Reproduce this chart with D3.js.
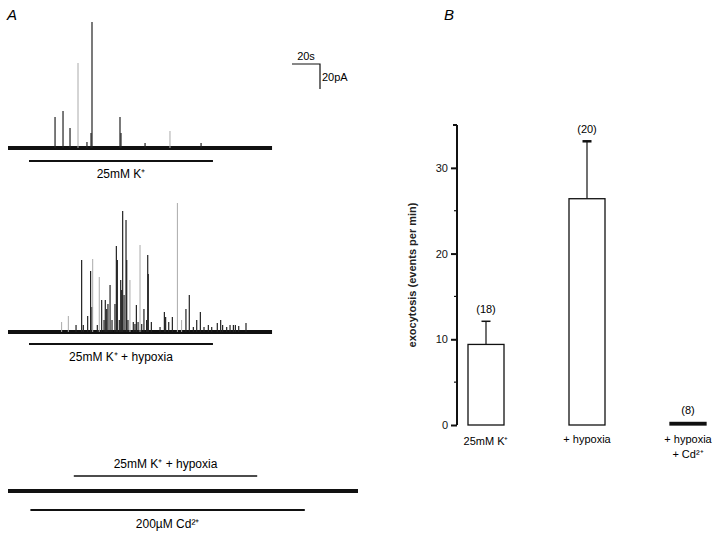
<!DOCTYPE html>
<html><head><meta charset="utf-8">
<script src="https://cdn.jsdelivr.net/npm/d3@7"></script>
<style>body{margin:0;background:#fff}svg{display:block;font-family:"Liberation Sans",Arial,sans-serif}</style>
</head><body><svg id="c" width="720" height="538"></svg>
<script>
// ---------- DATA ----------
// Panel A traces: spike times (s from trace start) and amplitudes (pA)
const trace1Times = [33.6, 39.3, 44.3, 50.0, 56.4, 59.3, 60.0, 80.0, 80.7, 97.9, 115.7, 137.9];
const trace1Amps  = [24.8, 29.6, 16.0, 68.0, 4.8, 12.0, 100.8, 24.8, 12.0, 4.0, 13.6, 4.0];
const trace1Faint = [50.0, 115.7];
const trace2Times = [38.3, 43.1, 48.6, 52.6, 53.8, 56.9, 59.0, 60.0, 60.5, 63.8, 65.2, 66.9, 68.6, 69.5, 70.5, 71.4, 72.9, 74.3, 76.4, 77.4, 78.1, 79.5, 80.5, 81.2, 81.9, 82.9, 84.3, 84.8, 85.7, 87.1, 89.5, 90.7, 91.7, 92.9, 94.3, 95.5, 97.1, 99.0, 99.8, 100.2, 102.4, 108.6, 111.7, 112.6, 114.8, 117.4, 121.0, 124.0, 127.1, 129.5, 132.4, 134.8, 137.4, 140.0, 143.1, 145.5, 149.5, 151.9, 153.3, 156.2, 158.6, 161.0, 162.4, 164.8, 170.0];
const trace2Amps  = [8.0, 12.8, 5.6, 57.6, 5.6, 12.8, 48.8, 20.0, 58.4, 5.6, 44.0, 25.6, 9.6, 25.6, 18.4, 22.4, 37.6, 9.6, 22.4, 68.8, 57.6, 9.6, 41.6, 33.6, 96.8, 29.6, 89.6, 57.6, 9.6, 41.6, 8.0, 6.4, 21.6, 8.0, 69.6, 6.4, 18.4, 9.6, 61.6, 46.4, 8.0, 4.0, 16.0, 12.0, 8.0, 12.0, 103.2, 9.6, 18.4, 29.6, 4.0, 9.6, 16.0, 4.0, 5.6, 4.0, 7.2, 9.6, 5.6, 4.0, 5.6, 5.6, 5.6, 4.8, 7.2];
const trace2Faint = [38.3, 43.1, 60.5, 87.1, 94.3, 121.0, 65.2, 124.0];
const traceDurations = [188.6, 188.6, 250];
const stimLabels = ["25mM K\u207A", "25mM K\u207A + hypoxia", "25mM K\u207A + hypoxia", "200\u00B5M Cd\u00B2\u207A"];
const stimStart = [15, 15, 47, 16];
const stimEnd   = [146.4, 146.4, 178, 212];
const scaleBarTime = 20, scaleBarAmp = 20;

// Panel B bar chart
const categories = ["25mM K+", "+ hypoxia", "+ hypoxia + Cd2+"];
const rates  = [9.4, 26.4, 0.3];
const errors = [12.1, 33.1, null];
const nCells = ["(18)", "(20)", "(8)"];
const yTicks = [0, 10, 20, 30];
const yMinorTicks = [5, 15, 25];

// ---------- DRAW ----------
const svg = d3.select("#c");
const ink = "#111";

// Panel A
svg.append("text").attr("x", 7).attr("y", 20).attr("font-size", 15).attr("font-style", "italic").text("A");

const t = d3.scaleLinear().domain([0, 250]).range([8, 358]);
const a = d3.scaleLinear().domain([0, 100]).range([0, 125]); // px per pA

function drawTrace(base, dur, times, amps, faint) {
  const g = svg.append("g");
  g.append("line").attr("x1", t(0)).attr("x2", t(dur)).attr("y1", base).attr("y2", base)
    .attr("stroke", ink).attr("stroke-width", 4);
  times.forEach((tm, i) => {
    const isF = faint.includes(tm);
    g.append("line").attr("x1", t(tm)).attr("x2", t(tm))
      .attr("y1", base).attr("y2", base - a(amps[i]))
      .attr("stroke", isF ? "#aaa" : "#222").attr("stroke-width", isF ? 1 : 1.2);
  });
}
function stim(y, i, ty) {
  svg.append("line").attr("x1", t(stimStart[i])).attr("x2", t(stimEnd[i])).attr("y1", y).attr("y2", y)
    .attr("stroke", ink).attr("stroke-width", 1.8);
  svg.append("text").attr("x", (t(stimStart[i]) + t(stimEnd[i])) / 2).attr("y", ty)
    .attr("text-anchor", "middle").attr("font-size", 12).text(stimLabels[i]);
}

drawTrace(148, traceDurations[0], trace1Times, trace1Amps, trace1Faint);
stim(161, 0, 178);
drawTrace(332, traceDurations[1], trace2Times, trace2Amps, trace2Faint);
stim(344, 1, 361);
drawTrace(491, traceDurations[2], [], [], []);
svg.append("line").attr("x1", t(stimStart[2])).attr("x2", t(stimEnd[2])).attr("y1", 476).attr("y2", 476)
  .attr("stroke", ink).attr("stroke-width", 1.5);
svg.append("text").attr("x", (t(stimStart[2]) + t(stimEnd[2])) / 2).attr("y", 468)
  .attr("text-anchor", "middle").attr("font-size", 12).text(stimLabels[2]);
stim(510, 3, 528);

// scale bar
const sbx = 320, sby = 64;
svg.append("path").attr("d", `M${sbx - (t(scaleBarTime) - t(0))},${sby}H${sbx}V${sby + a(scaleBarAmp)}`)
  .attr("fill", "none").attr("stroke", ink).attr("stroke-width", 1.2);
svg.append("text").attr("x", sbx - (t(scaleBarTime) - t(0)) / 2).attr("y", sby - 4).attr("text-anchor", "middle")
  .attr("font-size", 11).text(scaleBarTime + "s");
svg.append("text").attr("x", sbx + 2).attr("y", sby + 17).attr("font-size", 11).text(scaleBarAmp + "pA");

// Panel B
svg.append("text").attr("x", 444).attr("y", 20).attr("font-size", 15).attr("font-style", "italic").text("B");

const y = d3.scaleLinear().domain([0, 35]).range([425, 125]);
const x = d3.scalePoint().domain(categories).range([486, 688]);
const bw = 36;

const ax = svg.append("g").attr("transform", "translate(457,0)")
  .call(d3.axisLeft(y).tickValues(yTicks).tickSize(6).tickSizeOuter(0).tickPadding(3));
ax.select(".domain").attr("stroke", ink).attr("stroke-width", 2).attr("d", `M0,${y(35)}H-4M0,${y(35)}V${y(0)}`);
ax.selectAll(".tick line").attr("stroke", ink).attr("stroke-width", 2);
ax.selectAll(".tick text").attr("font-size", 11).attr("font-family", "Liberation Sans, Arial, sans-serif").attr("fill", "#111");
yMinorTicks.forEach(v => ax.append("line").attr("x1", -3).attr("x2", 0).attr("y1", y(v)).attr("y2", y(v)).attr("stroke", ink).attr("stroke-width", 1.2));

svg.append("text").attr("transform", `translate(416,${y(17.5)}) rotate(-90)`).attr("text-anchor", "middle")
  .attr("font-size", 11).attr("font-weight", "bold").attr("fill", "#222").text("exocytosis (events per min)");

categories.forEach((c, i) => {
  const cx = x(c);
  if (errors[i] !== null) {
    svg.append("line").attr("x1", cx).attr("x2", cx).attr("y1", y(rates[i])).attr("y2", y(errors[i]))
      .attr("stroke", ink).attr("stroke-width", 1.2);
    svg.append("line").attr("x1", cx - 4.5).attr("x2", cx + 4.5).attr("y1", y(errors[i])).attr("y2", y(errors[i]))
      .attr("stroke", ink).attr("stroke-width", i === 1 ? 2.5 : 1.5);
  }
  svg.append("rect").attr("x", cx - bw / 2).attr("y", y(rates[i])).attr("width", bw).attr("height", y(0) - y(rates[i]))
    .attr("fill", i === 2 ? ink : "#fff").attr("stroke", ink).attr("stroke-width", 1.3);
  const top = errors[i] !== null ? y(errors[i]) : y(rates[i]);
  svg.append("text").attr("x", cx).attr("y", top - 8).attr("text-anchor", "middle").attr("font-size", 11).text(nCells[i]);
});
// category labels
svg.append("text").attr("x", x(categories[0])).attr("y", 445).attr("text-anchor", "middle").attr("font-size", 11).text("25mM K\u207A");
svg.append("text").attr("x", x(categories[1])).attr("y", 443).attr("text-anchor", "middle").attr("font-size", 11).text("+ hypoxia");
svg.append("text").attr("x", x(categories[2])).attr("y", 443).attr("text-anchor", "middle").attr("font-size", 11).text("+ hypoxia");
svg.append("text").attr("x", x(categories[2])).attr("y", 458).attr("text-anchor", "middle").attr("font-size", 11).text("+ Cd\u00B2\u207A");
</script></body></html>
